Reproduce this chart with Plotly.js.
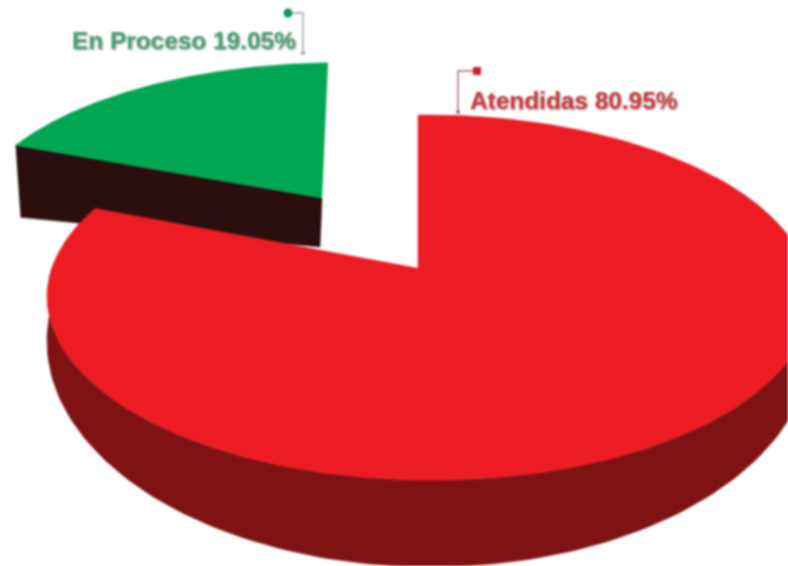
<!DOCTYPE html>
<html><head><meta charset="utf-8">
<script src="https://cdn.plot.ly/plotly-3.0.1.min.js"></script>
<style>html,body{margin:0;padding:0;background:#fff;overflow:hidden}#c{width:788px;height:566px;filter:blur(0.8px)}</style>
</head><body><div id="c"></div>
<script>
const categories = ["Atendidas", "En Proceso"];
const values = [80.95, 19.05];
const topColors = ["#ed1c24", "#00a651"];
const wallColors = ["#7f1313", "#2b0e0e"];
const labelColors = ["#c8383a", "#45a074"];

// projective views of the disc (layout, not data)
const redTop = {x0:418, y0:268, a:376.7, c:177.7, s:0, k:0.1616, m:-0.0292};
const redBase = {x0:418, y0:305.5, a:377, c:219, s:0, k:0.1616, m:-0.0292};
const greenTop = {x0:322, y0:198, a:361, c:157, s:7, k:0.1616, m:-0.0314};
const greenDrop = {rimDx:5, rimDy:72, apexDx:-2, apexDy:49};

const total = values.reduce((p, q) => p + q, 0);
const sweep = values.map(v => v / total * 2 * Math.PI);

function pt(view, t) {
  const u = Math.sin(t), v = Math.cos(t), d = 1 + view.k * v + view.m * u;
  return [view.x0 + (view.a * u + view.s * v) / d, view.y0 - view.c * v / d];
}
function arc(view, t0, t1) {
  const out = [], n = 160;
  for (let i = 0; i <= n; i++) out.push(pt(view, t0 + (t1 - t0) * i / n));
  return out;
}
function poly(points, color) {
  return {type:"scatter", mode:"lines", x:points.map(p => p[0]), y:points.map(p => p[1]),
    fill:"toself", fillcolor:color, line:{color:color, width:0.5}, hoverinfo:"skip", showlegend:false};
}
function leader(xs, ys, color, lineColor, sym, size) {
  const last = xs.length - 1;
  return [
    {type:"scatter", mode:"lines", x:xs, y:ys, line:{color:lineColor, width:1.4}, hoverinfo:"skip", showlegend:false},
    {type:"scatter", mode:"markers", x:[xs[last]], y:[ys[last]], marker:{color:lineColor, symbol:"circle", size:4}, hoverinfo:"skip", showlegend:false},
    {type:"scatter", mode:"markers", x:[xs[0]], y:[ys[0]], marker:{color:color, symbol:sym, size:size}, hoverinfo:"skip", showlegend:false}
  ];
}

const redEnd = sweep[0];
const greenStart = redEnd, greenEnd = redEnd + sweep[1];
const greenRim = pt(greenTop, greenStart);
const greenApex = [greenTop.x0, greenTop.y0];

const traces = [];
// green slice, cut face first
traces.push(poly([greenRim, greenApex,
  [greenApex[0] + greenDrop.apexDx, greenApex[1] + greenDrop.apexDy],
  [greenRim[0] + greenDrop.rimDx, greenRim[1] + greenDrop.rimDy]], wallColors[1]));
traces.push(poly([greenApex].concat(arc(greenTop, greenStart, greenEnd)), topColors[1]));
// red slice: outer wall, then top
const wallFrom = 1.0, wallTo = 4.75;
traces.push(poly(arc(redTop, wallFrom, wallTo).concat(arc(redBase, wallTo, wallFrom)), wallColors[0]));
traces.push(poly([[redTop.x0, redTop.y0]].concat(arc(redTop, 0, redEnd)), topColors[0]));
// leaders
traces.push(...leader([477, 458, 458], [71, 71, 112], "#c9252b", "#a46a6a", "square", 8));
traces.push(...leader([288, 303, 303], [13, 13, 53], "#0f9a5a", "#9aa5a0", "circle", 9));

const annotations = [
  {x:468, y:100, text:categories[0] + " " + values[0].toFixed(2) + "%", color:labelColors[0]},
  {x:70, y:40, text:categories[1] + " " + values[1].toFixed(2) + "%", color:labelColors[1]}
].map(a => ({x:a.x, y:a.y, xref:"x", yref:"y", xanchor:"left", yanchor:"middle", showarrow:false, text:a.text,
  font:{family:"Liberation Sans, Arial, sans-serif", size:24.4, weight:700, color:a.color, shadow:"1px 1px 2px rgba(90,60,60,0.55)"}}));

Plotly.newPlot("c", traces, {
  width:788, height:566, margin:{l:0, r:0, t:0, b:0},
  paper_bgcolor:"#ffffff", plot_bgcolor:"#ffffff", showlegend:false,
  xaxis:{range:[0,788], visible:false, fixedrange:true},
  yaxis:{range:[566,0], visible:false, fixedrange:true},
  annotations:annotations
}, {displayModeBar:false, staticPlot:true});
</script></body></html>
